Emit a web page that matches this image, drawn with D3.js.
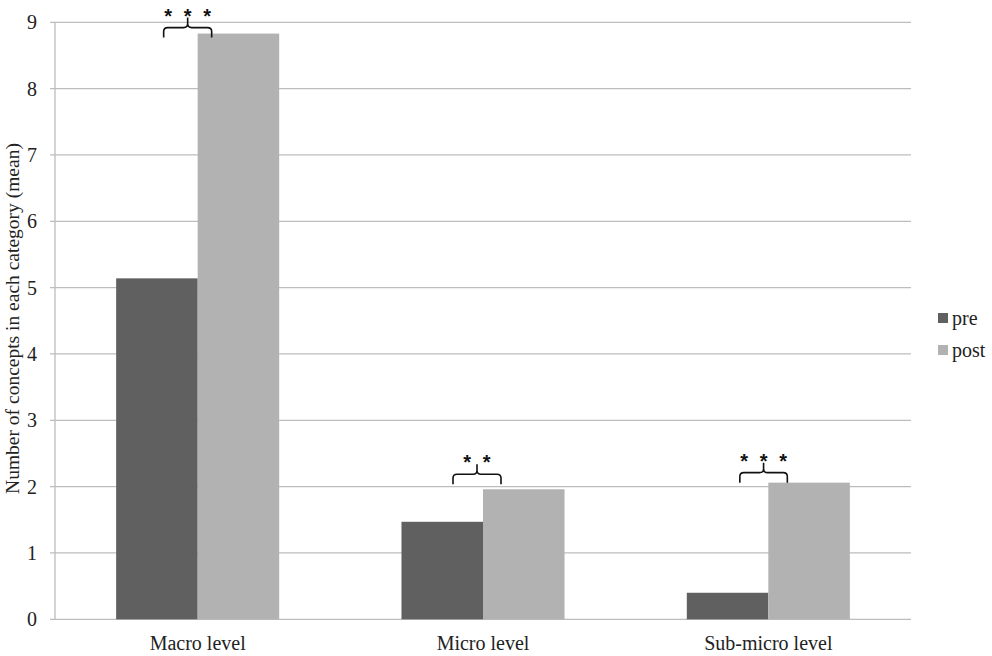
<!DOCTYPE html>
<html><head><meta charset="utf-8">
<script src="https://cdn.jsdelivr.net/npm/d3@7/dist/d3.min.js"></script>
<style>body{margin:0;background:#fff}svg{display:block}</style>
</head><body>
<svg id="chart" width="992" height="656"></svg>
<script>
const categories = ["Macro level", "Micro level", "Sub-micro level"];
const seriesNames = ["pre", "post"];
const preValues = [5.14, 1.47, 0.40];
const postValues = [8.83, 1.96, 2.06];
const yTicks = [0, 1, 2, 3, 4, 5, 6, 7, 8, 9];
const significance = ["* * *", "* *", "* * *"];
const colors = {pre: "#606060", post: "#b2b2b2"};

(function () {
const svg = d3.select("#chart");
const mLeft = 55, mRight = 911, mTop = 22.3, mBottom = 619.3;
const serif = "'Liberation Serif', 'Times New Roman', serif";

const x0 = d3.scaleBand().domain(categories).range([mLeft, mRight])
  .paddingInner(1.5/3.5).paddingOuter(0.75/3.5);
const x1 = d3.scaleBand().domain(seriesNames).range([0, x0.bandwidth()]);
const y = d3.scaleLinear().domain([0, 9]).range([mBottom, mTop]);

// gridlines
svg.append("g").selectAll("line").data(yTicks).join("line")
  .attr("x1", mLeft - 5).attr("x2", mRight)
  .attr("y1", d => y(d)).attr("y2", d => y(d))
  .attr("stroke", "#bdbdbd").attr("stroke-width", 1.3);
// y axis line
svg.append("line").attr("x1", mLeft).attr("x2", mLeft)
  .attr("y1", y(9)).attr("y2", y(0))
  .attr("stroke", "#bdbdbd").attr("stroke-width", 1.3);

// y tick labels
svg.append("g").selectAll("text").data(yTicks).join("text")
  .attr("x", 37).attr("y", d => y(d) + 7)
  .attr("text-anchor", "end").attr("font-family", serif)
  .attr("font-size", 20).attr("fill", "#222").text(d => d);

// y title
svg.append("text")
  .attr("transform", `translate(19,318.5) rotate(-90)`)
  .attr("text-anchor", "middle").attr("font-family", serif)
  .attr("font-size", 19.5).attr("fill", "#222")
  .text("Number of concepts in each category (mean)");

// bars
const rows = categories.map((c, i) => ({cat: c, pre: preValues[i], post: postValues[i]}));
const groups = svg.append("g").selectAll("g").data(rows).join("g")
  .attr("transform", d => `translate(${x0(d.cat)},0)`);
groups.selectAll("rect").data(d => seriesNames.map(s => ({s, v: d[s]}))).join("rect")
  .attr("x", d => x1(d.s)).attr("width", x1.bandwidth())
  .attr("y", d => y(d.v)).attr("height", d => y(0) - y(d.v))
  .attr("fill", d => colors[d.s]);

// x labels
svg.append("g").selectAll("text").data(categories).join("text")
  .attr("x", d => x0(d) + x0.bandwidth()/2).attr("y", 650)
  .attr("text-anchor", "middle").attr("font-family", serif)
  .attr("font-size", 20).attr("fill", "#222").text(d => d);

// significance brackets (hand-placed annotation offsets)
const brackOff = [[-34, 14], [-30, 18], [-28.5, 19]];
const legDrop = [4, -5, 0];
rows.forEach((r, i) => {
  const cx = x0(r.cat) + x0.bandwidth()/2;
  const xl = cx + brackOff[i][0], xr = cx + brackOff[i][1], xm = (xl + xr)/2;
  const yb = y(Math.max(r.pre, r.post)) + legDrop[i];
  const yh = yb - 10;
  const rr = 4;
  const p = `M${xl},${yb} L${xl},${yh+rr} Q${xl},${yh} ${xl+rr},${yh} L${xm-rr},${yh} Q${xm},${yh} ${xm},${yh-rr} L${xm},${yh-10} M${xm},${yh-rr} Q${xm},${yh} ${xm+rr},${yh} L${xr-rr},${yh} Q${xr},${yh} ${xr},${yh+rr} L${xr},${yb}`;
  svg.append("path").attr("d", p).attr("fill", "none")
    .attr("stroke", "#111").attr("stroke-width", 1.6);
  const n = significance[i].split(" ").length;
  for (let k = 0; k < n; k++) {
    svg.append("text")
      .attr("x", xm + (k - (n-1)/2) * 19.5).attr("y", yh - 5)
      .attr("text-anchor", "middle").attr("font-family", "'Liberation Sans', Arial, sans-serif")
      .attr("font-weight", "bold").attr("font-size", 20).attr("fill", "#111").text("*");
  }
});

// legend
const lg = svg.append("g").selectAll("g").data(seriesNames).join("g")
  .attr("transform", (d, i) => `translate(938,${313 + i*32})`);
lg.append("rect").attr("width", 10).attr("height", 10).attr("fill", d => colors[d]);
lg.append("text").attr("x", 14).attr("y", 12).attr("font-family", serif)
  .attr("font-size", 20).attr("fill", "#222").text(d => d);
})();
</script>
</body></html>
